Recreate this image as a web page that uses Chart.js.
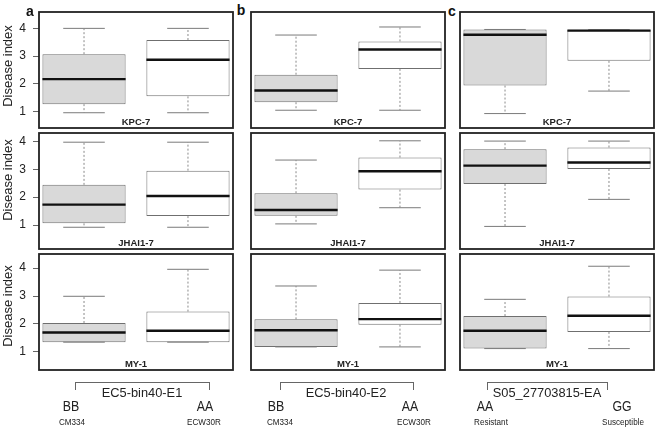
<!DOCTYPE html>
<html><head><meta charset="utf-8">
<script src="https://cdn.jsdelivr.net/npm/chart.js@4.4.1/dist/chart.umd.min.js"></script>
<style>
html,body{margin:0;padding:0;background:#fff;}
body{width:658px;height:435px;position:relative;overflow:hidden;font-family:'Liberation Sans',Arial,Helvetica,sans-serif;color:#222;}
canvas{position:absolute;}
.t{position:absolute;white-space:nowrap;line-height:1;transform:translate(-50%,-50%);}
.br{position:absolute;border:1px solid #666;border-bottom:none;}
</style></head><body>
<script>
// ---------- data ----------
const panelLetters = ['a','b','c'];
const isolates = ['KPC-7','JHAI1-7','MY-1'];
const markers = ['EC5-bin40-E1','EC5-bin40-E2','S05_27703815-EA'];
const genotypes = [['BB','AA'],['BB','AA'],['AA','GG']];
const parents = [['CM334','ECW30R'],['CM334','ECW30R'],['Resistant','Susceptible']];
const yTicks = [1,2,3,4];
const yTitle = 'Disease index';
const groupPos = [1,2];
// per-row y range of the panels
const rowMin = [0.41, 0.14, 0.34];
const rowMax = [4.59, 4.30, 4.51];
// box statistics per group: [min, q1, median, q3, max]
const e1_KPC7   = [[0.96,1.27,2.17,3.07,4.00],[0.96,1.55,2.87,3.58,4.00]];
const e1_JHAI17 = [[0.92,1.06,1.73,2.44,3.97],[0.92,1.32,2.04,2.95,3.97]];
const e1_MY1    = [[1.34,1.34,1.69,2.03,2.99],[1.34,1.34,1.75,2.44,3.96]];
const e2_KPC7   = [[1.05,1.34,1.76,2.33,3.76],[1.05,2.54,3.24,3.53,4.05]];
const e2_JHAI17 = [[1.04,1.33,1.54,2.14,3.33],[1.62,2.27,2.93,3.42,4.02]];
const e2_MY1    = [[1.17,1.17,1.77,2.16,3.36],[1.17,1.97,2.17,2.75,3.93]];
const s05_KPC7   = [[0.93,1.94,3.77,3.96,3.96],[1.74,2.83,3.92,3.95,3.95]];
const s05_JHAI17 = [[0.95,2.47,3.13,3.72,4.01],[1.92,3.01,3.24,3.78,4.01]];
const s05_MY1    = [[1.11,1.11,1.75,2.28,2.88],[1.11,1.71,2.29,2.98,4.07]];
const panels = [[e1_KPC7,e1_JHAI17,e1_MY1],[e2_KPC7,e2_JHAI17,e2_MY1],[s05_KPC7,s05_JHAI17,s05_MY1]];

// ---------- layout ----------
const colLeft = [39, 251, 460];
const rowTop = [12, 133, 254];
const panelW = 194, panelH = 116;
const FONT = "'Liberation Sans', Arial, Helvetica, sans-serif";
const boxFill = ['#d9d9d9', '#ffffff'];
const halfBox = 0.4, halfCap = 0.2;

function addText(txt, x, y, css){
  const d = document.createElement('div');
  d.className = 't'; d.textContent = txt;
  d.style.left = x + 'px'; d.style.top = y + 'px';
  Object.assign(d.style, css || {});
  document.body.appendChild(d);
}

const framePlugin = {
  id: 'frame',
  afterDraw(chart){
    const {ctx, chartArea:a} = chart;
    ctx.save(); ctx.strokeStyle = '#222'; ctx.lineWidth = 1.8;
    ctx.strokeRect(a.left, a.top, a.right - a.left, a.bottom - a.top);
    ctx.restore();
  }
};

function makePanel(col, row){
  const stats = panels[col][row];
  const left = col === 0 ? 0 : colLeft[col] - 1;
  const width = col === 0 ? colLeft[0] + panelW + 1 : panelW + 2;
  const cv = document.createElement('canvas');
  cv.width = width; cv.height = panelH + 2;
  cv.style.left = left + 'px'; cv.style.top = (rowTop[row] - 1) + 'px';
  cv.style.width = width + 'px'; cv.style.height = (panelH + 2) + 'px';
  document.body.appendChild(cv);

  const gap = (x) => ({x, y: null});
  const boxes = groupPos.map((p, i) => ({x: p, y: [stats[i][1], stats[i][3]]}));
  const whiskers = [], caps = [], medians = [];
  groupPos.forEach((p, i) => {
    const s = stats[i];
    whiskers.push({x:p, y:s[3]}, {x:p, y:s[4]}, gap(p), {x:p, y:s[1]}, {x:p, y:s[0]}, gap(p));
    caps.push({x:p-halfCap, y:s[4]}, {x:p+halfCap, y:s[4]}, gap(p), {x:p-halfCap, y:s[0]}, {x:p+halfCap, y:s[0]}, gap(p));
    medians.push({x:p-halfBox, y:s[2]}, {x:p+halfBox, y:s[2]}, gap(p));
  });

  new Chart(cv, {
    type: 'bar',
    data: {
      datasets: [
        {type:'bar', data: boxes, backgroundColor: boxFill, borderColor:'#6f6f6f', borderWidth:1,
         borderSkipped:false, barPercentage:0.8, categoryPercentage:1.0, order:3},
        {type:'line', data: whiskers, borderColor:'#8a8a8a', borderWidth:1, borderDash:[2,2],
         pointRadius:0, spanGaps:false, fill:false, tension:0, order:2},
        {type:'line', data: caps, borderColor:'#7a7a7a', borderWidth:1,
         pointRadius:0, spanGaps:false, fill:false, tension:0, order:2},
        {type:'line', data: medians, borderColor:'#111', borderWidth:2.4,
         pointRadius:0, spanGaps:false, fill:false, tension:0, order:1}
      ]
    },
    options: {
      responsive:false, animation:false, devicePixelRatio:1,
      layout:{padding:{top:1, bottom:1, right:1, left: col === 0 ? 0 : 1}},
      plugins:{legend:{display:false}, tooltip:{enabled:false}},
      scales:{
        x:{type:'linear', min:0.567, max:2.433, display:false, offset:false,
           afterBuildTicks: s => { s.ticks = groupPos.map(v => ({value:v})); }},
        y:{type:'linear', min:rowMin[row], max:rowMax[row], display: col === 0,
           afterFit: s => { if (col === 0) { s.width = colLeft[0]; } s.paddingTop = 0; s.paddingBottom = 0; },
           afterBuildTicks: s => { s.ticks = yTicks.map(v => ({value:v})); },
           ticks:{font:{size:12, family:FONT}, color:'#222', padding:7},
           grid:{drawOnChartArea:false, drawTicks:true, tickLength:6, color:'#666', tickWidth:1},
           border:{display:false}}
      }
    },
    plugins:[framePlugin]
  });

  // isolate label inside panel
  addText(isolates[row], colLeft[col] + panelW/2, rowTop[row] + panelH - 6,
          {fontSize:'9.5px', fontWeight:'bold', color:'#222'});
}

for (let c = 0; c < 3; c++) for (let r = 0; r < 3; r++) makePanel(c, r);

// y titles (left column)
const yTitleCenters = [66, 180, 306];
yTitleCenters.forEach(yc => addText(yTitle, 7, yc, {fontSize:'13px', transform:'translate(-50%,-50%) rotate(-90deg)'}));

// panel letters
const letterPos = [[30,11],[241,10],[452,11]];
panelLetters.forEach((l, i) => addText(l, letterPos[i][0], letterPos[i][1], {fontSize:'14px', fontWeight:'bold', color:'#111'}));

// bottom annotations
const bracketX = [[75,208],[280,412],[487,606]];
const genoX = [[71,205],[276,410],[485,622]];
const parentX = [[72,204],[280,414],[491,623]];
for (let i = 0; i < 3; i++){
  const b = document.createElement('div'); b.className = 'br';
  b.style.left = bracketX[i][0] + 'px'; b.style.top = '382px';
  b.style.width = (bracketX[i][1] - bracketX[i][0]) + 'px'; b.style.height = '7px';
  document.body.appendChild(b);
  addText(markers[i], (bracketX[i][0] + bracketX[i][1]) / 2, 393, {fontSize:'13.5px', transform:'translate(-50%,-50%) scaleX(0.95)'});
  addText(genotypes[i][0], genoX[i][0], 406, {fontSize:'14.5px', transform:'translate(-50%,-50%) scaleX(0.85)'});
  addText(genotypes[i][1], genoX[i][1], 406, {fontSize:'14.5px', transform:'translate(-50%,-50%) scaleX(0.85)'});
  addText(parents[i][0], parentX[i][0], 422, {fontSize:'9px', transform:'translate(-50%,-50%) scaleX(0.9)'});
  addText(parents[i][1], parentX[i][1], 422, {fontSize:'9px', transform:'translate(-50%,-50%) scaleX(0.9)'});
}
</script>
</body></html>
